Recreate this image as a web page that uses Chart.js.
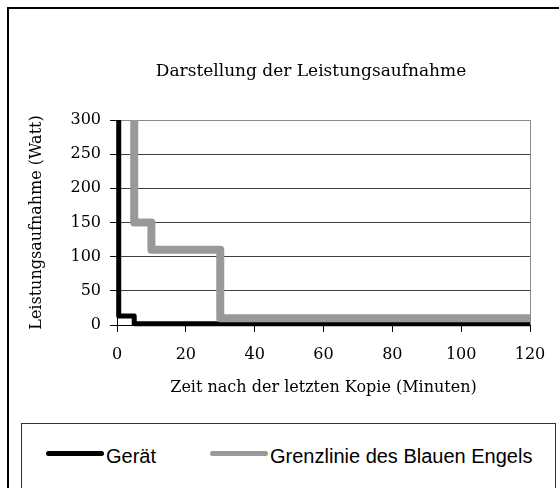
<!DOCTYPE html>
<html>
<head>
<meta charset="utf-8">
<script src="https://cdn.jsdelivr.net/npm/chart.js@4.4.1/dist/chart.umd.min.js"></script>
<style>
html, body { margin: 0; padding: 0; background: #fff; overflow: hidden; }
#wrap { position: relative; width: 559px; height: 488px; overflow: hidden; }
#frame { position: absolute; left: 7px; top: 7px; width: 620px; height: 600px; border: 2px solid #000; box-sizing: border-box; }
#chart { position: absolute; left: 0; top: 0; }
#legend { position: absolute; left: 21px; top: 423px; width: 535px; height: 120px; border: 1px solid #333; box-sizing: border-box;
          font-family: "Liberation Sans", Arial, sans-serif; font-size: 20px; color: #000; }
#legend .items { position: absolute; left: 24px; top: 21px; display: flex; line-height: 23px; white-space: nowrap; }
#legend .item { display: flex; align-items: center; margin-right: 54px; }
#legend .swatch { width: 58px; height: 5px; border-radius: 3px; margin-right: 2px; position: relative; top: -3px; }
</style>
</head>
<body>
<div id="wrap">
    <div id="frame"></div>
    <canvas id="chart" width="559" height="410"></canvas>
    <div id="legend"><div class="items" id="legend-items"></div></div>
</div>
<script>
const SERIF = "'DejaVu Serif', 'Liberation Serif', serif";

// data
const SERIES_NAMES = ["Gerät", "Grenzlinie des Blauen Engels"];
const SERIES_COLORS = ["#000000", "#999999"];
const TIME_GERAET = [0.5, 0.5, 5, 5, 120];
const WATT_GERAET = [300, 13, 13, 2, 2];
const TIME_GRENZE = [5, 5, 10, 10, 30, 30, 120];
const WATT_GRENZE = [300, 150, 150, 110, 110, 10, 10];
const X_TICKS = [0, 20, 40, 60, 80, 100, 120];
const Y_TICKS = [0, 50, 100, 150, 200, 250, 300];

function toPoints(xs, ys) {
    return xs.map((x, i) => ({ x: x, y: ys[i] }));
}

// chart title drawn at a fixed spot (centre of the old Excel chart area)
const titlePlugin = {
    id: "chartTitle",
    afterDraw(chart, args, opts) {
        const ctx = chart.ctx;
        ctx.save();
        ctx.font = opts.font;
        ctx.fillStyle = "#000";
        ctx.textAlign = "center";
        ctx.textBaseline = "middle";
        ctx.fillText(opts.text, opts.x, opts.y);
        ctx.restore();
    }
};

new Chart(document.getElementById("chart"), {
    type: "line",
    data: {
        datasets: [
            {
                label: SERIES_NAMES[0],
                data: toPoints(TIME_GERAET, WATT_GERAET),
                borderColor: SERIES_COLORS[0],
                borderWidth: 5,
                order: 1
            },
            {
                label: SERIES_NAMES[1],
                data: toPoints(TIME_GRENZE, WATT_GRENZE),
                borderColor: SERIES_COLORS[1],
                borderWidth: 8,
                order: 0
            }
        ]
    },
    options: {
        responsive: false,
        animation: false,
        elements: {
            point: { radius: 0 },
            line: { tension: 0, borderJoinStyle: "round", borderCapStyle: "butt" }
        },
        datasets: {
            line: { clip: { left: 4, top: 0, right: 0, bottom: 4 } }
        },
        layout: { padding: { left: 10, right: 29, top: 120, bottom: 5 } },
        plugins: {
            legend: { display: false },
            tooltip: { enabled: false },
            chartTitle: {
                text: "Darstellung der Leistungsaufnahme",
                x: 311,
                y: 72,
                font: "17px " + SERIF
            }
        },
        scales: {
            x: {
                type: "linear",
                min: 0,
                max: 120,
                afterBuildTicks: s => { s.ticks = X_TICKS.map(v => ({ value: v })); },
                afterFit: s => { s.height = 80; },
                border: { color: "#000", width: 1 },
                grid: {
                    color: c => (c.tick && c.tick.value === 120) ? "#8c8c8c" : "rgba(0,0,0,0)",
                    tickColor: "#000",
                    tickLength: 7
                },
                ticks: {
                    font: { family: SERIF, size: 16 },
                    color: "#000",
                    padding: 13,
                    maxRotation: 0
                },
                title: {
                    display: true,
                    text: "Zeit nach der letzten Kopie (Minuten)",
                    font: { family: SERIF, size: 16 },
                    color: "#000",
                    padding: { top: 0, bottom: 8 }
                }
            },
            y: {
                min: 0,
                max: 300,
                afterBuildTicks: s => { s.ticks = Y_TICKS.map(v => ({ value: v })); },
                afterFit: s => { s.width = 107; },
                border: { color: "#000", width: 1 },
                grid: {
                    color: c => (c.tick && c.tick.value === 300) ? "#8c8c8c" : "#404040",
                    tickColor: "#000",
                    tickLength: 7
                },
                ticks: {
                    font: { family: SERIF, size: 16 },
                    color: "#000",
                    padding: 9
                },
                title: {
                    display: true,
                    text: "Leistungsaufnahme (Watt)",
                    font: { family: SERIF, size: 16 },
                    color: "#000",
                    padding: { top: 17, bottom: 0 }
                }
            }
        }
    },
    plugins: [titlePlugin]
});

// legend box below the chart, built from the series arrays
const legendItems = document.getElementById("legend-items");
for (let i = 0; i < SERIES_NAMES.length; i++) {
    const item = document.createElement("div");
    item.className = "item";
    const swatch = document.createElement("span");
    swatch.className = "swatch";
    swatch.style.background = SERIES_COLORS[i];
    const text = document.createElement("span");
    text.innerText = SERIES_NAMES[i];
    item.appendChild(swatch);
    item.appendChild(text);
    legendItems.appendChild(item);
}
</script>
</body>
</html>
